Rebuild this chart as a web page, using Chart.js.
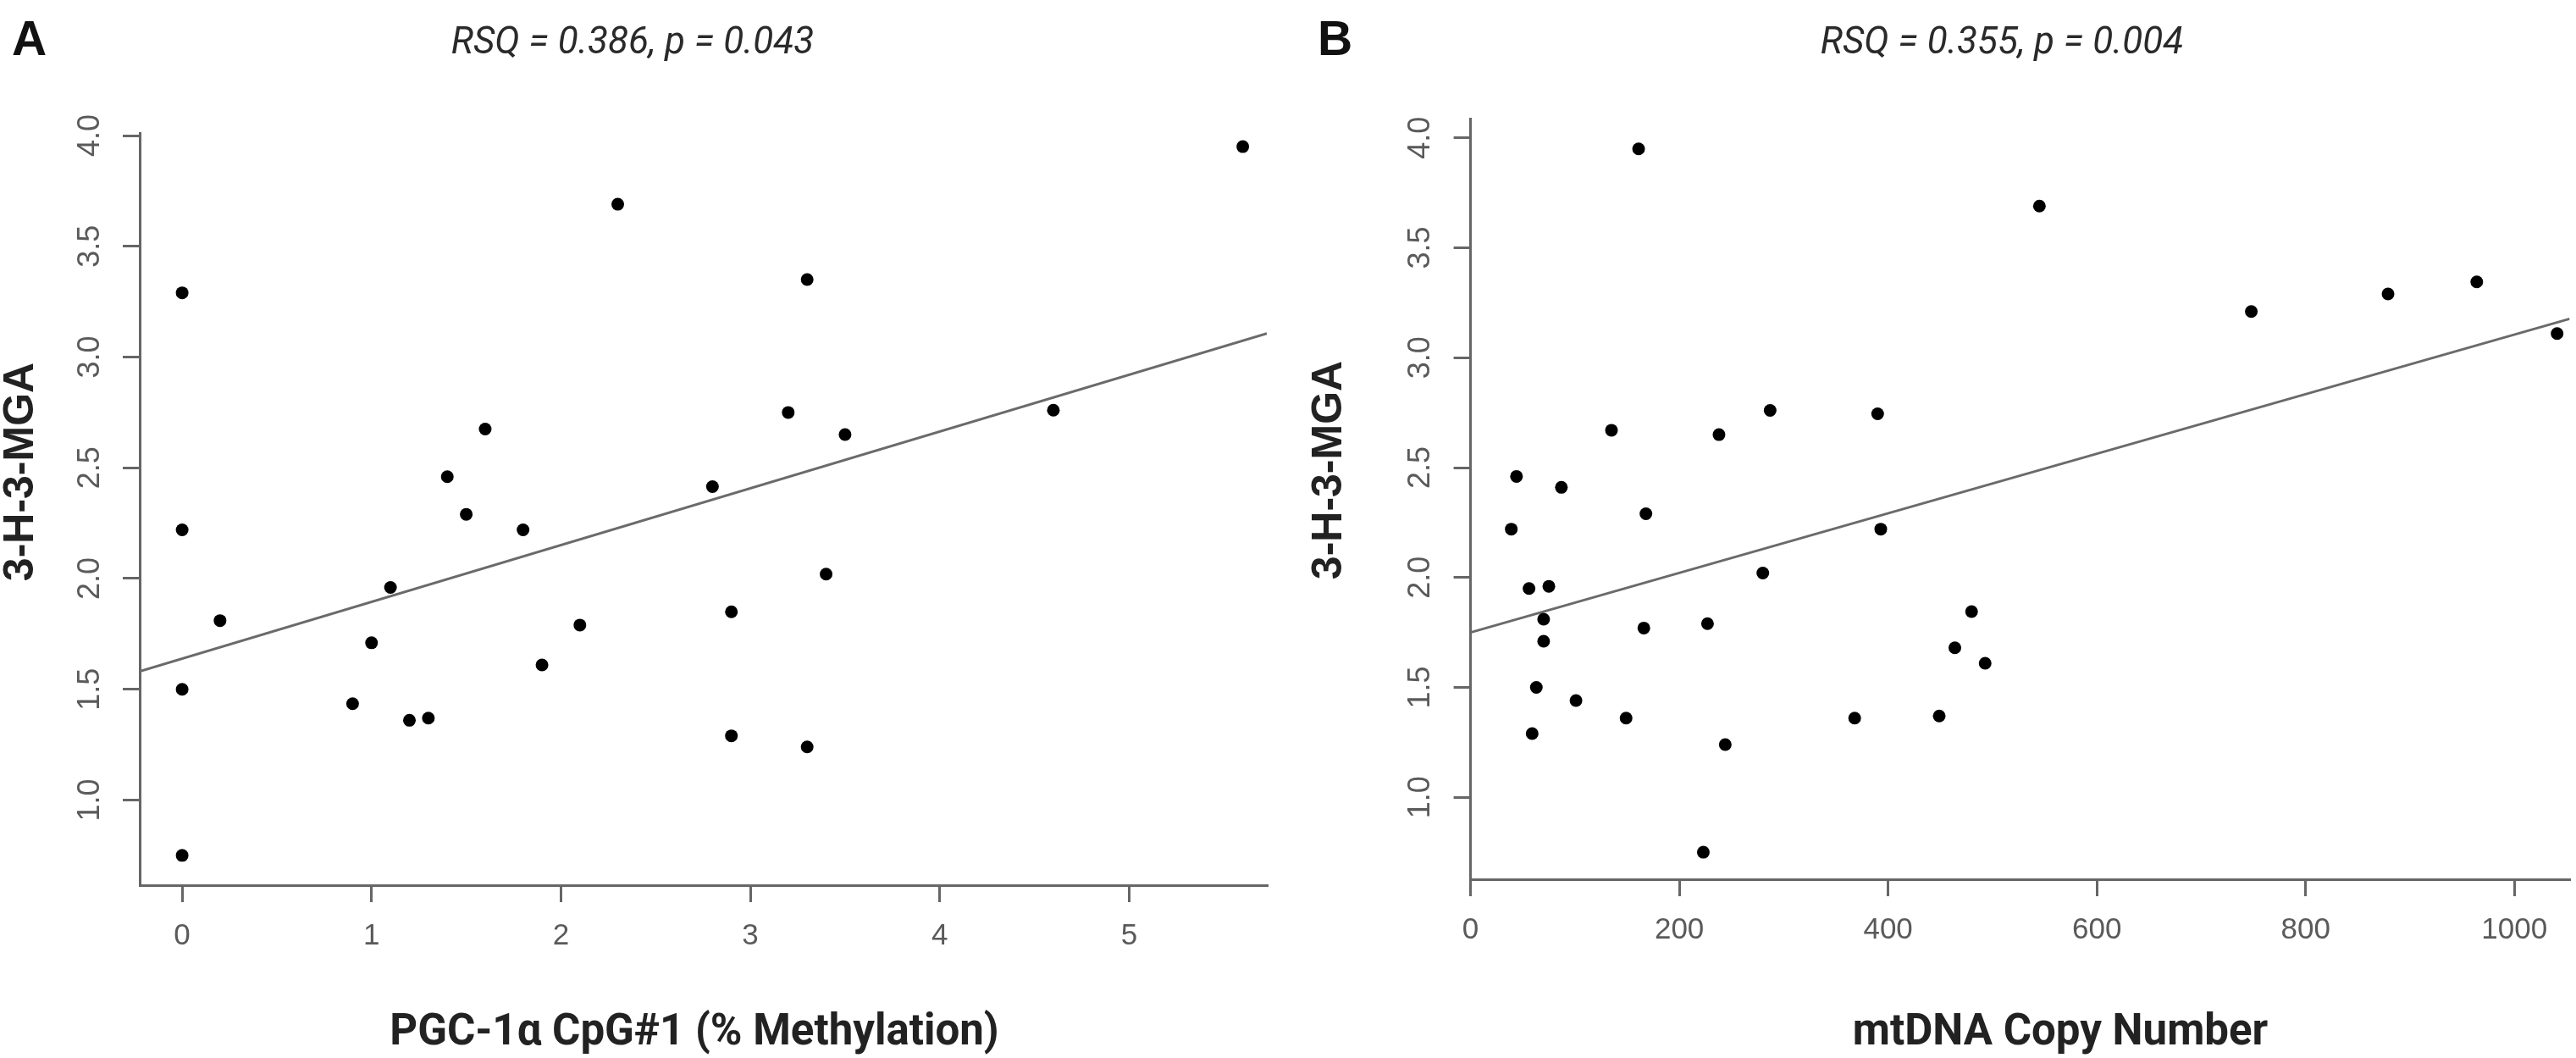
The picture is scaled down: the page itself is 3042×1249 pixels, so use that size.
<!DOCTYPE html>
<html><head><meta charset="utf-8">
<script src="https://cdn.jsdelivr.net/npm/chart.js@4.4.1/dist/chart.umd.min.js"></script>
<style>
html,body{margin:0;padding:0;background:#fff;}
#wrap{position:relative;width:3042px;height:1249px;background:#fff;}
canvas{position:absolute;top:0;}
</style></head><body>
<div id="wrap">
<canvas id="cA" width="1521" height="1249" style="left:0px"></canvas>
<canvas id="cB" width="1521" height="1249" style="left:1521px"></canvas>
</div>
<script>
// ---- Panel A: PGC-1a CpG#1 methylation vs 3-H-3-MGA ----
const methylationX = [0, 0, 0, 0, 0.2, 0.9, 1.0, 1.1, 1.2, 1.3, 1.4, 1.5, 1.6, 1.8, 1.9, 2.1, 2.3, 2.8, 2.9, 2.9, 3.2, 3.3, 3.3, 3.4, 3.5, 4.6, 5.6];
const mgaA = [3.29, 2.22, 1.50, 0.75, 1.81, 1.435, 1.71, 1.96, 1.36, 1.37, 2.46, 2.29, 2.675, 2.22, 1.61, 1.79, 3.69, 2.415, 1.85, 1.29, 2.75, 3.35, 1.24, 2.02, 2.65, 2.76, 3.95];
const fitAX = [-0.224, 5.727];
const fitAY = [1.581, 3.106];

// ---- Panel B: mtDNA copy number vs 3-H-3-MGA ----
const copyNumberX = [161, 545, 44, 39, 87, 135, 168, 238, 287, 390, 393, 280, 56, 75, 70, 70, 166, 227, 63, 101, 149, 59, 244, 223, 368, 449, 464, 480, 493, 748, 879, 964, 1041];
const mgaB = [3.95, 3.69, 2.46, 2.22, 2.41, 2.67, 2.29, 2.65, 2.76, 2.745, 2.22, 2.02, 1.95, 1.96, 1.81, 1.71, 1.77, 1.79, 1.50, 1.44, 1.36, 1.29, 1.24, 0.75, 1.36, 1.37, 1.68, 1.845, 1.61, 3.21, 3.29, 3.345, 3.11];
const fitBX = [0, 1053];
const fitBY = [1.75, 3.177];

// ---- Tick labels and texts ----
const xTicksA = [0, 1, 2, 3, 4, 5];
const xTicksB = [0, 200, 400, 600, 800, 1000];
const yTicks = [1.0, 1.5, 2.0, 2.5, 3.0, 3.5, 4.0];
const panelLetters = ['A', 'B'];
const statTitles = ['RSQ = 0.386, p = 0.043', 'RSQ = 0.355, p = 0.004'];
const xTitles = ['PGC-1\u03b1 CpG#1 (% Methylation)', 'mtDNA Copy Number'];
const yTitle = '3-H-3-MGA';

const SANS = '"Liberation Sans", Arial, Helvetica, sans-serif';

const textPlugin = {
  id: 'panelText',
  afterDraw(chart, args, o) {
    const ctx = chart.ctx;
    ctx.save();
    ctx.textBaseline = 'alphabetic';
    ctx.fillStyle = '#111';
    ctx.textAlign = 'left';
    ctx.font = 'bold 57px ' + SANS;
    ctx.fillText(o.letter, o.letterX, 65);
    ctx.fillStyle = '#2a2a2a';
    ctx.textAlign = 'center';
    ctx.font = 'italic 400 44px Roboto, sans-serif';
    ctx.fillText(o.stat, o.statX, 63);
    ctx.fillStyle = '#222';
    ctx.font = 'bold 51px Roboto, sans-serif';
    ctx.fillText(o.xTitle, o.xTitleX, 1233);
    ctx.translate(o.yTitleX, o.yTitleY);
    ctx.rotate(-Math.PI / 2);
    ctx.font = 'bold 50px ' + SANS;
    ctx.textBaseline = 'middle';
    ctx.fillText(yTitle, 0, 0);
    ctx.restore();
  }
};

function makePanel(id, p) {
  return new Chart(document.getElementById(id), {
    type: 'scatter',
    data: {
      datasets: [
        {
          type: 'line',
          data: p.fitX.map((x, i) => ({ x: x, y: p.fitY[i] })),
          borderColor: '#6a6a6a', borderWidth: 3, pointRadius: 0, fill: false, tension: 0, order: 2
        },
        {
          data: p.xs.map((x, i) => ({ x: x, y: p.ys[i] })),
          pointRadius: 7.5, pointHoverRadius: 7.5, backgroundColor: '#000', borderWidth: 0, order: 1
        }
      ]
    },
    options: {
      responsive: false, animation: false, devicePixelRatio: 1,
      layout: { padding: { left: 0, right: p.padR, top: p.padT, bottom: 0 } },
      plugins: {
        legend: { display: false }, tooltip: { enabled: false }, title: { display: false },
        panelText: p.text
      },
      scales: {
        x: {
          type: 'linear', min: p.xMin, max: p.xMax,
          afterBuildTicks: s => { s.ticks = p.xTicks.map(v => ({ value: v })); },
          afterFit: s => { s.height = p.xH; },
          grid: { display: true, drawOnChartArea: false, drawTicks: true, tickLength: 20, color: '#666', lineWidth: 3 },
          border: { display: true, color: '#666', width: 3 },
          ticks: { color: '#5a5a5a', font: { family: SANS, size: 35 }, padding: 19, maxRotation: 0, autoSkip: false, callback: v => String(v) }
        },
        y: {
          type: 'linear', min: p.yMin, max: p.yMax,
          afterBuildTicks: s => { s.ticks = yTicks.map(v => ({ value: v })); },
          afterFit: s => { s.width = p.yW; },
          grid: { display: true, drawOnChartArea: false, drawTicks: true, tickLength: 20, color: '#666', lineWidth: 3 },
          border: { display: true, color: '#666', width: 3 },
          ticks: { color: '#5a5a5a', font: { family: SANS, size: 36 }, padding: 13, minRotation: 90, maxRotation: 90, crossAlign: 'center', autoSkip: false, callback: v => Number(v).toFixed(1) }
        }
      }
    },
    plugins: [textPlugin]
  });
}

makePanel('cA', {
  xs: methylationX, ys: mgaA, fitX: fitAX, fitY: fitAY, xTicks: xTicksA,
  xMin: -0.224, xMax: 5.727, yMin: 0.6156, yMax: 4.01,
  padR: 25, padT: 157.4, xH: 204, yW: 165,
  text: { letter: panelLetters[0], letterX: 14, stat: statTitles[0], statX: 747, xTitle: xTitles[0], xTitleX: 820, yTitleX: 25, yTitleY: 557 }
});

makePanel('cB', {
  xs: copyNumberX, ys: mgaB, fitX: fitBX, fitY: fitBY, xTicks: xTicksB,
  xMin: 0, xMax: 1053, yMin: 0.627, yMax: 4.086,
  padR: 6.4, padT: 140.5, xH: 211, yW: 215.6,
  text: { letter: panelLetters[1], letterX: 35, stat: statTitles[1], statX: 843, xTitle: xTitles[1], xTitleX: 912, yTitleX: 49, yTitleY: 555 }
});
</script>
</body></html>
